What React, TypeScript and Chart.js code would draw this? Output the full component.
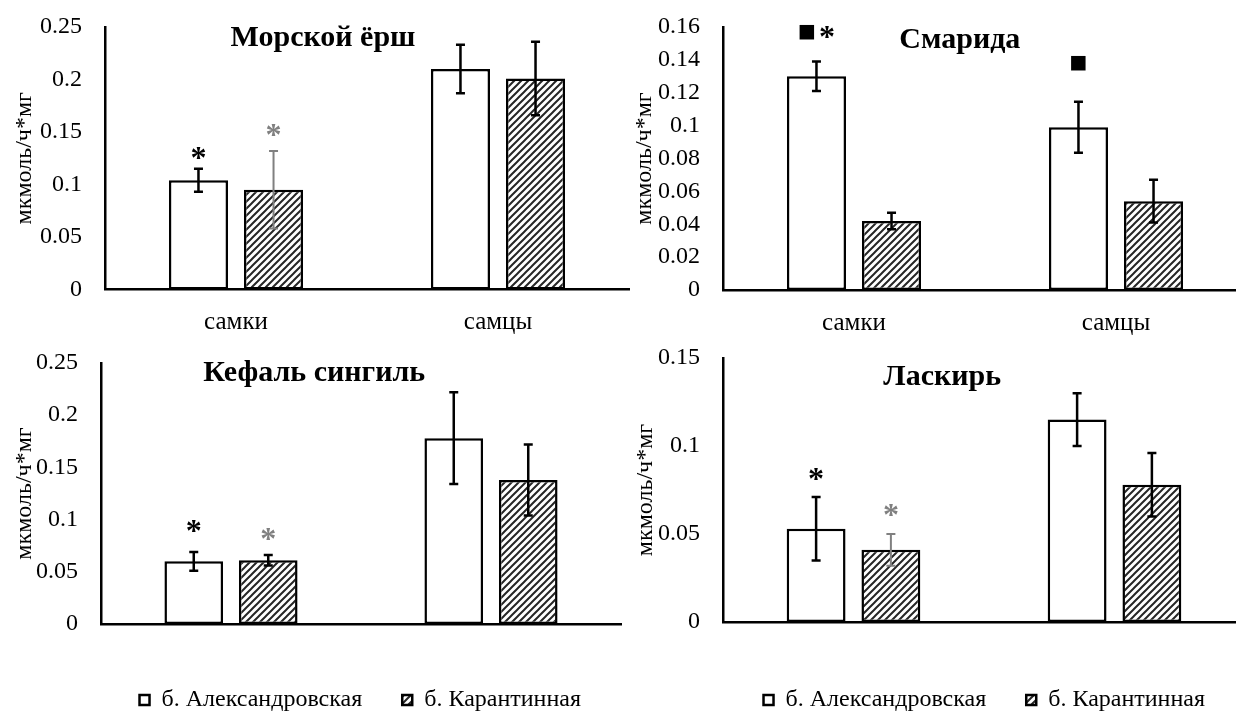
import React, { useEffect, useRef } from "react";
import { Chart, registerables } from "chart.js";

Chart.register(...registerables);

// ---------- data ----------
const CATEGORIES = ["самки", "самцы"];
const SERIES = ["б. Александровская", "б. Карантинная"];
const Y_TITLE = "мкмоль/ч*мг";

const ERSH_NAME = "Морской ёрш";
const ERSH_ALEX = [0.104, 0.21];
const ERSH_ALEX_ERR = [0.011, 0.023];
const ERSH_KAR = [0.095, 0.201];
const ERSH_KAR_ERR = [0.037, 0.035];
const ERSH_TICKS = ["0", "0.05", "0.1", "0.15", "0.2", "0.25"];
const ERSH_MARKS = [
  { cat: 0, ds: 0, text: "*" },
  { cat: 0, ds: 1, text: "*" },
];

const SMARIDA_NAME = "Смарида";
const SMARIDA_ALEX = [0.13, 0.099];
const SMARIDA_ALEX_ERR = [0.009, 0.0155];
const SMARIDA_KAR = [0.042, 0.054];
const SMARIDA_KAR_ERR = [0.005, 0.013];
const SMARIDA_TICKS = ["0", "0.02", "0.04", "0.06", "0.08", "0.1", "0.12", "0.14", "0.16"];
const SMARIDA_MARKS = [
  { cat: 0, ds: 0, text: "■*" },
  { cat: 1, ds: 0, text: "■" },
];

const KEFAL_NAME = "Кефаль сингиль";
const KEFAL_ALEX = [0.06, 0.178];
const KEFAL_ALEX_ERR = [0.009, 0.044];
const KEFAL_KAR = [0.061, 0.138];
const KEFAL_KAR_ERR = [0.005, 0.034];
const KEFAL_TICKS = ["0", "0.05", "0.1", "0.15", "0.2", "0.25"];
const KEFAL_MARKS = [
  { cat: 0, ds: 0, text: "*" },
  { cat: 0, ds: 1, text: "*" },
];

const LASKIR_NAME = "Ласкирь";
const LASKIR_ALEX = [0.053, 0.115];
const LASKIR_ALEX_ERR = [0.018, 0.015];
const LASKIR_KAR = [0.041, 0.078];
const LASKIR_KAR_ERR = [0.009, 0.018];
const LASKIR_TICKS = ["0", "0.05", "0.1", "0.15"];
const LASKIR_MARKS = [
  { cat: 0, ds: 0, text: "*" },
  { cat: 0, ds: 1, text: "*" },
];

// ---------- styling / layout ----------
const SERIF = '"Liberation Serif", "Times New Roman", serif';
const GRAY = "#808080";

type Mark = { cat: number; ds: number; text: string };
type PanelCfg = {
  name: string;
  alex: number[];
  alexErr: number[];
  kar: number[];
  karErr: number[];
  ticks: string[];
  marks: Mark[];
  box: { left: number; top: number; width: number; height: number };
  pad: { left: number; top: number; right: number; bottom: number };
  yWidth: number;
  xHeight: number;
  xPad: number;
  titleFrac: number;
  titleDy: number;
  yTitlePad: number;
  markLift: number[];
  grayErr: number[][];
  legend: boolean;
};

const PANELS: PanelCfg[] = [
  {
    name: ERSH_NAME, alex: ERSH_ALEX, alexErr: ERSH_ALEX_ERR, kar: ERSH_KAR, karErr: ERSH_KAR_ERR,
    ticks: ERSH_TICKS, marks: ERSH_MARKS,
    box: { left: 0, top: 0, width: 632, height: 336 },
    pad: { left: 0, top: 27, right: 3, bottom: 0 },
    yWidth: 105, xHeight: 46.5, xPad: 18,
    titleFrac: 0.416, titleDy: 11, yTitlePad: 10,
    markLift: [16, 21], grayErr: [[1, 0]], legend: false,
  },
  {
    name: SMARIDA_NAME, alex: SMARIDA_ALEX, alexErr: SMARIDA_ALEX_ERR, kar: SMARIDA_KAR, karErr: SMARIDA_KAR_ERR,
    ticks: SMARIDA_TICKS, marks: SMARIDA_MARKS,
    box: { left: 630, top: 0, width: 620, height: 336 },
    pad: { left: 0, top: 27, right: 3, bottom: 0 },
    yWidth: 93, xHeight: 46, xPad: 18,
    titleFrac: 0.452, titleDy: 13, yTitlePad: 0,
    markLift: [30, 39], grayErr: [], legend: false,
  },
  {
    name: KEFAL_NAME, alex: KEFAL_ALEX, alexErr: KEFAL_ALEX_ERR, kar: KEFAL_KAR, karErr: KEFAL_KAR_ERR,
    ticks: KEFAL_TICKS, marks: KEFAL_MARKS,
    box: { left: 0, top: 336, width: 632, height: 379 },
    pad: { left: 0, top: 27, right: 11, bottom: 0 },
    yWidth: 101, xHeight: 24, xPad: 19,
    titleFrac: 0.41, titleDy: 10, yTitlePad: 10,
    markLift: [18, 21], grayErr: [], legend: true,
  },
  {
    name: LASKIR_NAME, alex: LASKIR_ALEX, alexErr: LASKIR_ALEX_ERR, kar: LASKIR_KAR, karErr: LASKIR_KAR_ERR,
    ticks: LASKIR_TICKS, marks: LASKIR_MARKS,
    box: { left: 630, top: 336, width: 620, height: 379 },
    pad: { left: 0, top: 22, right: 5, bottom: 0 },
    yWidth: 93, xHeight: 26, xPad: 19,
    titleFrac: 0.42, titleDy: 19, yTitlePad: 1,
    markLift: [15, 24], grayErr: [[1, 0]], legend: true,
  },
];

function makeHatch(): CanvasPattern | string {
  const s = 7;
  const c = document.createElement("canvas");
  c.width = s;
  c.height = s;
  const g = c.getContext("2d");
  if (!g) return "#888";
  g.fillStyle = "#fff";
  g.fillRect(0, 0, s, s);
  g.strokeStyle = "#262626";
  g.lineWidth = 2;
  g.beginPath();
  g.moveTo(-1, s + 1);
  g.lineTo(s + 1, -1);
  g.moveTo(-1, 1);
  g.lineTo(1, -1);
  g.moveTo(s - 1, s + 1);
  g.lineTo(s + 1, s - 1);
  g.stroke();
  return g.createPattern(c, "repeat") || "#888";
}

function markFont(ch: string) {
  return ch === "■" ? 'bold 19px "DejaVu Sans"' : `bold 32px ${SERIF}`;
}

function ChartPanel({ p }: { p: PanelCfg }) {
  const ref = useRef<HTMLCanvasElement>(null);
  useEffect(() => {
    const canvas = ref.current;
    if (!canvas) return;
    const hatch = makeHatch();
    const tickValues = p.ticks.map((t) => parseFloat(t));
    const yMax = tickValues[tickValues.length - 1];
    const vals = [p.alex, p.kar];
    const errs = [p.alexErr, p.karErr];

    const extras = {
      id: "extras",
      afterDatasetsDraw(chart: any) {
        const ctx = chart.ctx as CanvasRenderingContext2D;
        const y = chart.scales.y;
        const area = chart.chartArea;
        ctx.save();
        // error bars
        for (let ds = 0; ds < 2; ds++) {
          const meta = chart.getDatasetMeta(ds);
          meta.data.forEach((bar: any, i: number) => {
            const v = vals[ds][i];
            const e = errs[ds][i];
            const gray = p.grayErr.some(([d, c]) => d === ds && c === i);
            const top = y.getPixelForValue(v + e);
            const bot = y.getPixelForValue(v - e);
            ctx.strokeStyle = gray ? GRAY : "#000";
            ctx.lineWidth = gray ? 2 : 2.5;
            ctx.beginPath();
            ctx.moveTo(bar.x, top);
            ctx.lineTo(bar.x, bot);
            ctx.moveTo(bar.x - 4.5, top);
            ctx.lineTo(bar.x + 4.5, top);
            ctx.moveTo(bar.x - 4.5, bot);
            ctx.lineTo(bar.x + 4.5, bot);
            ctx.stroke();
          });
        }
        // significance marks
        p.marks.forEach((m, k) => {
          const bar = chart.getDatasetMeta(m.ds).data[m.cat];
          const top = y.getPixelForValue(vals[m.ds][m.cat] + errs[m.ds][m.cat]);
          const cy = top - p.markLift[k];
          const chars = Array.from(m.text);
          const gap = 5;
          const sizes = chars.map((ch) => {
            ctx.font = markFont(ch);
            return ctx.measureText(ch);
          });
          const widths = sizes.map((mt) => mt.actualBoundingBoxLeft + mt.actualBoundingBoxRight);
          const total = widths.reduce((a, b) => a + b, 0) + gap * (chars.length - 1);
          let x = bar.x - total / 2;
          ctx.fillStyle = m.ds === 1 ? GRAY : "#000";
          ctx.textAlign = "left";
          ctx.textBaseline = "alphabetic";
          chars.forEach((ch, j) => {
            const mt = sizes[j];
            ctx.font = markFont(ch);
            const baseY = cy + (mt.actualBoundingBoxAscent - mt.actualBoundingBoxDescent) / 2;
            ctx.fillText(ch, x + mt.actualBoundingBoxLeft, baseY);
            x += widths[j] + gap;
          });
        });
        // panel title
        ctx.fillStyle = "#000";
        ctx.font = `bold 30px ${SERIF}`;
        ctx.textAlign = "center";
        ctx.textBaseline = "middle";
        ctx.fillText(p.name, area.left + p.titleFrac * (area.right - area.left), area.top + p.titleDy);
        ctx.restore();
      },
    };

    const chart = new Chart(canvas, {
      type: "bar",
      data: {
        labels: CATEGORIES,
        datasets: [
          {
            label: SERIES[0],
            data: p.alex,
            backgroundColor: "#ffffff",
            borderColor: "#000000",
            borderWidth: 2.5,
            borderSkipped: false,
            categoryPercentage: 0.573,
            barPercentage: 0.787,
          },
          {
            label: SERIES[1],
            data: p.kar,
            backgroundColor: hatch as any,
            borderColor: "#000000",
            borderWidth: 2.5,
            borderSkipped: false,
            categoryPercentage: 0.573,
            barPercentage: 0.787,
          },
        ],
      },
      options: {
        responsive: false,
        animation: false,
        events: [],
        layout: { padding: p.pad },
        plugins: {
          tooltip: { enabled: false },
          title: { display: false },
          legend: {
            display: p.legend,
            position: "bottom",
            align: "end",
            maxHeight: 67,
            labels: {
              boxWidth: 10,
              boxHeight: 10,
              padding: 40,
              color: "#000",
              font: { family: SERIF, size: 24 },
            },
          },
        },
        scales: {
          x: {
            grid: { display: false, drawTicks: false },
            border: { display: true, color: "#000", width: 2.5 },
            ticks: { color: "#000", font: { family: SERIF, size: 25 }, padding: p.xPad },
            afterFit: (s: any) => {
              s.height = p.xHeight;
            },
          },
          y: {
            min: 0,
            max: yMax,
            grid: { display: false, drawTicks: false },
            border: { display: true, color: "#000", width: 2.5 },
            afterBuildTicks: (s: any) => {
              s.ticks = tickValues.map((v) => ({ value: v }));
            },
            ticks: {
              color: "#000",
              font: { family: SERIF, size: 24 },
              padding: 23,
              autoSkip: false,
              callback: (_v: any, i: number) => p.ticks[i],
            },
            title: {
              display: true,
              text: Y_TITLE,
              color: "#000",
              font: { family: SERIF, size: 24 },
              padding: { top: p.yTitlePad, bottom: 0 },
            },
            afterFit: (s: any) => {
              s.width = p.yWidth;
              s.paddingTop = 0;
              s.paddingBottom = 0;
            },
          },
        },
      } as any,
      plugins: [extras],
    });
    return () => chart.destroy();
  }, [p]);

  return (
    <div style={{ position: "absolute", left: p.box.left, top: p.box.top, width: p.box.width, height: p.box.height }}>
      <canvas ref={ref} width={p.box.width} height={p.box.height} style={{ display: "block" }} />
    </div>
  );
}

export default function App() {
  return (
    <div
      style={{
        position: "fixed",
        left: 0,
        top: 0,
        width: 1236,
        height: 715,
        overflow: "hidden",
        background: "#fff",
      }}
    >
      {PANELS.map((p) => (
        <ChartPanel key={p.name} p={p} />
      ))}
    </div>
  );
}
